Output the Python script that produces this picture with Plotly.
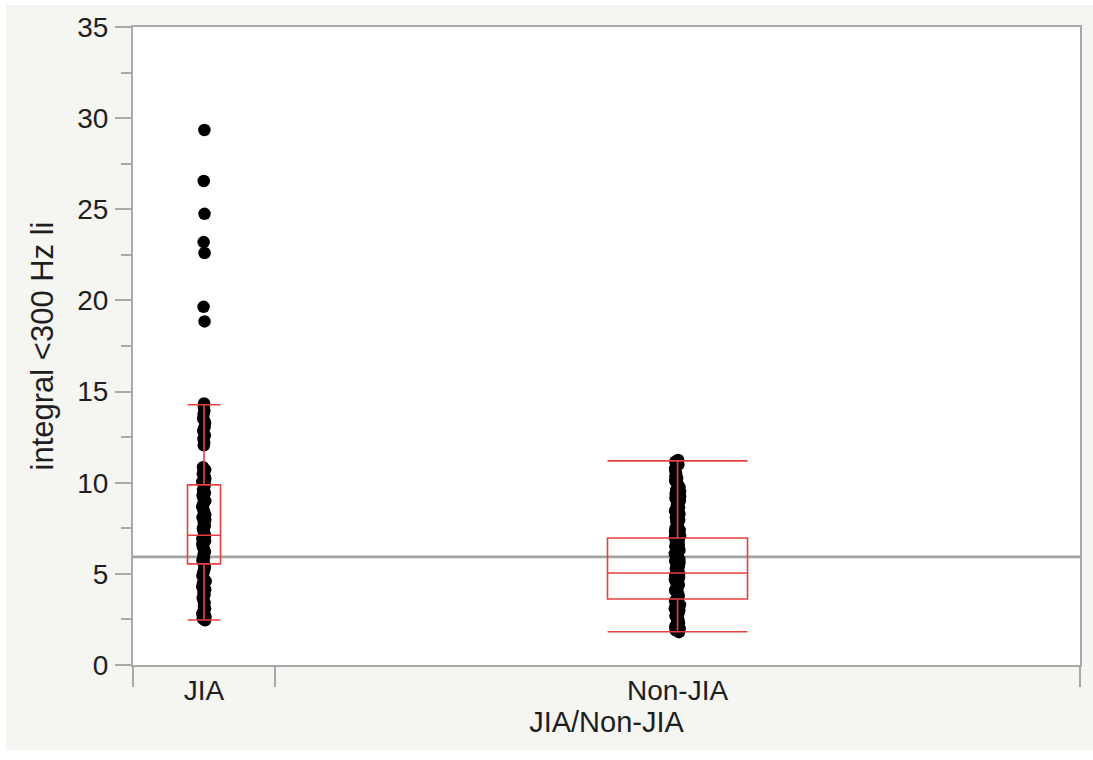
import plotly.graph_objects as go

# ---------------- data ----------------
categories = ["JIA", "Non-JIA"]
group_share = [0.15, 0.85]          # JMP-style proportional category widths

jia_values = [29.35, 26.55, 24.75, 23.2, 22.6, 19.65, 18.85,
              14.35, 14.15, 13.95, 13.75, 13.5, 13.3, 13.05, 12.85, 12.6, 12.4,
              12.2, 12.05,
              10.85, 10.7, 10.5, 10.35, 10.2, 10.05, 9.9, 9.75, 9.6, 9.45, 9.3,
              9.15, 9.0, 8.85, 8.7, 8.55, 8.4, 8.25, 8.1, 7.95, 7.8, 7.65, 7.5,
              7.35, 7.2, 7.1, 6.95, 6.8, 6.65, 6.5, 6.35, 6.2, 6.05, 5.9, 5.75,
              5.6, 5.5, 5.35, 5.2, 5.05, 4.9, 4.75, 4.6, 4.45, 4.3, 4.15, 4.0,
              3.85, 3.7, 3.55, 3.4, 3.25, 3.1, 2.95, 2.8, 2.65, 2.55, 2.45]

nonjia_values = [11.25, 11.15, 11.0, 10.9, 10.75, 10.6, 10.5, 10.35, 10.25,
                 10.1, 10.0, 9.85, 9.75, 9.6, 9.5, 9.4, 9.25, 9.15, 9.0, 8.9,
                 8.8, 8.65, 8.55, 8.45, 8.3, 8.2, 8.1, 7.95, 7.85, 7.75, 7.6,
                 7.5, 7.4, 7.3, 7.2, 7.1, 7.0, 6.9, 6.8, 6.7, 6.6, 6.5, 6.4,
                 6.3, 6.2, 6.1, 6.0, 5.9, 5.8, 5.7, 5.6, 5.5, 5.4, 5.3, 5.2,
                 5.1, 5.0, 4.9, 4.8, 4.7, 4.6, 4.5, 4.4, 4.3, 4.2, 4.1, 4.0,
                 3.9, 3.8, 3.7, 3.6, 3.5, 3.4, 3.3, 3.2, 3.1, 3.0, 2.9, 2.8,
                 2.7, 2.6, 2.5, 2.4, 2.3, 2.2, 2.1, 2.0, 1.9, 1.8]

q1 = [5.55, 3.62]
median = [7.12, 5.05]
q3 = [9.88, 6.97]
lower_whisker = [2.47, 1.82]
upper_whisker = [14.28, 11.2]
grand_mean = 5.93

y_ticks = [0, 5, 10, 15, 20, 25, 30, 35]

# ---------------- styling ----------------
W, H = 1093, 760
ML, MR, MT, MB = 133, 13, 27, 95
PW, PH = W - ML - MR, H - MT - MB
FONT = "Liberation Sans, Arial, Helvetica, sans-serif"
TXT = "#1e1e1e"
AXC = "#a9a9a9"
RED = "#e8403f"
BG = "#f5f5f1"
box_px = [33, 140]
jitter = [0.12, 0.04]

bounds = [0.0]
for s in group_share:
    bounds.append(bounds[-1] + s)
centers = [(bounds[i] + bounds[i + 1]) / 2 for i in range(len(categories))]
box_w = [p / PW for p in box_px]

fig = go.Figure()

# points
for i, vals in enumerate([jia_values, nonjia_values]):
    fig.add_trace(go.Box(
        y=vals, x0=centers[i], width=box_w[i],
        boxpoints="all", jitter=jitter[i], pointpos=0,
        marker=dict(color="black", size=12.5, line=dict(width=0)),
        line=dict(color="rgba(0,0,0,0)", width=0),
        fillcolor="rgba(0,0,0,0)", whiskerwidth=0,
        showlegend=False, hoverinfo="y"))

# red box plots
for i in range(len(categories)):
    fig.add_trace(go.Box(
        x=[centers[i]], q1=[q1[i]], median=[median[i]], q3=[q3[i]],
        lowerfence=[lower_whisker[i]], upperfence=[upper_whisker[i]],
        width=box_w[i], whiskerwidth=1, boxpoints=False,
        line=dict(color=RED, width=1.6), fillcolor="rgba(0,0,0,0)",
        showlegend=False))

# invisible trace that carries the category label axis
fig.add_trace(go.Scatter(x=centers, y=[None] * len(centers), xaxis="x2",
                         mode="markers", showlegend=False, hoverinfo="skip"))

# grand mean line
fig.add_shape(type="line", xref="paper", yref="y", x0=0, x1=1,
              y0=grand_mean, y1=grand_mean,
              line=dict(color="#a3a3a3", width=2.8), layer="below")

# thin white frame around the gray panel
def px_x(p):
    return (p - ML) / PW

def px_y(p):
    return (H - MB - p) / PH

for x0, x1, y0, y1 in [(0, 6, 0, H), (0, W, 0, 5), (0, W, 750, H)]:
    fig.add_shape(type="rect", xref="paper", yref="paper",
                  x0=px_x(x0), x1=px_x(x1), y0=px_y(y1), y1=px_y(y0),
                  fillcolor="white", line=dict(width=0), layer="above")

fig.update_layout(
    width=W, height=H,
    margin=dict(l=ML, r=MR, t=MT, b=MB, autoexpand=False),
    paper_bgcolor=BG, plot_bgcolor="white",
    font=dict(family=FONT, size=28, color=TXT),
    boxmode="overlay", showlegend=False,
    xaxis=dict(range=[0, 1], tickvals=bounds, ticks="outside", ticklen=20,
               tickwidth=2, tickcolor=AXC, showticklabels=False,
               showline=True, linecolor=AXC, linewidth=2, mirror=True,
               showgrid=False, zeroline=False, fixedrange=True),
    xaxis2=dict(range=[0, 1], overlaying="x", side="bottom",
                tickvals=centers, ticktext=categories, ticks="",
                ticklabelstandoff=6,
                showline=False, showgrid=False, zeroline=False,
                title=dict(text="JIA/Non-JIA", standoff=2,
                           font=dict(size=29, color=TXT))),
    yaxis=dict(range=[0, 35], tickvals=y_ticks, ticks="outside", ticklen=16,
               tickwidth=2, tickcolor=AXC, ticklabelstandoff=1,
               minor=dict(dtick=2.5, tick0=0, ticks="outside", ticklen=10,
                          tickwidth=2, tickcolor=AXC),
               showline=True, linecolor=AXC, linewidth=2, mirror=True,
               showgrid=False, zeroline=False,
               title=dict(text="integral <300 Hz li", standoff=14,
                          font=dict(size=31, color=TXT))),
)

fig.write_html("out.html")
